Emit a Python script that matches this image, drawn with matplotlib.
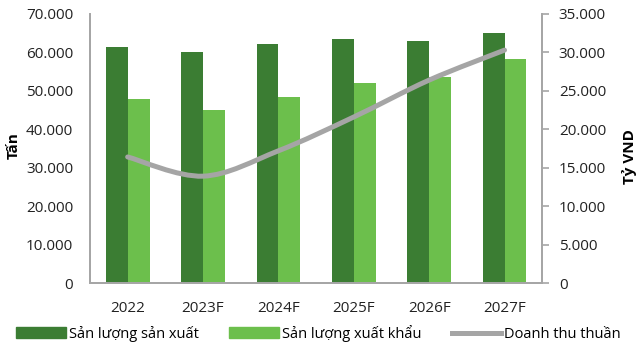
import numpy as np
import matplotlib.pyplot as plt
from matplotlib.path import Path
from matplotlib.patches import PathPatch
from matplotlib.lines import Line2D
from matplotlib.patches import Patch

plt.rcParams['font.family'] = ['Open Sans', 'DejaVu Sans']

years = ['2022', '2023F', '2024F', '2025F', '2026F', '2027F']
san_xuat = [61500, 60100, 62300, 63400, 63100, 65000]   # Tấn
xuat_khau = [48000, 45000, 48500, 52100, 53500, 58400]  # Tấn
doanh_thu = [16400, 13900, 17200, 21600, 26400, 30300]  # Tỷ VND

dark = '#3b7d33'
light = '#6cbf4c'
grey = '#a5a5a5'
axcol = '#a6a6a6'

fig = plt.figure(figsize=(6.4, 3.47), dpi=100)
ax = fig.add_axes([0.1406, 0.1844, 0.7066, 0.7753])
ax2 = ax.twinx()

x = np.arange(len(years))
w = 0.29
ax.bar(x - w / 2, san_xuat, w, color=dark, zorder=2)
ax.bar(x + w / 2, xuat_khau, w, color=light, zorder=2)

# smoothed line (Catmull-Rom as cubic bezier) through the data points
pts = np.column_stack([x, doanh_thu]).astype(float)
verts = [tuple(pts[0])]
codes = [Path.MOVETO]
for i in range(len(pts) - 1):
    p0 = pts[i - 1] if i > 0 else pts[i]
    p1, p2 = pts[i], pts[i + 1]
    p3 = pts[i + 2] if i + 2 < len(pts) else pts[i + 1]
    c1 = p1 + (p2 - p0) / 6
    c2 = p2 - (p3 - p1) / 6
    verts += [tuple(c1), tuple(c2), tuple(p2)]
    codes += [Path.CURVE4] * 3
ax2.add_patch(PathPatch(Path(verts, codes), facecolor='none', edgecolor=grey,
                        lw=3.6, capstyle='round', joinstyle='round', zorder=3))

ax.set_xlim(-0.5, 5.5)
ax.set_ylim(0, 70000)
ax2.set_ylim(0, 35000)
ax.set_yticks(np.arange(0, 70001, 10000))
ax2.set_yticks(np.arange(0, 35001, 5000))
fmt = lambda v: f'{int(v):,}'.replace(',', '.')
ax.set_yticklabels([fmt(v) for v in ax.get_yticks()])
ax2.set_yticklabels([fmt(v) for v in ax2.get_yticks()])
ax.set_xticks(x)
ax.set_xticklabels(years)

for a in (ax, ax2):
    a.spines['top'].set_visible(False)
    for s in ('left', 'right', 'bottom'):
        a.spines[s].set_color(axcol)
        a.spines[s].set_linewidth(1.3)
ax.tick_params(axis='y', length=0, labelsize=11, pad=12, colors='#222222')
ax.tick_params(axis='x', length=0, labelsize=11, pad=13, colors='#222222')
ax2.tick_params(axis='y', length=5, width=1.2, color=axcol, labelsize=11,
                pad=7, labelcolor='#222222')

fig.text(0.022, 0.58, 'Tấn', rotation=90, fontsize=11, fontweight='bold',
         ha='center', va='center')
fig.text(0.983, 0.548, 'Tỷ VND', rotation=90, fontsize=11, fontweight='bold',
         ha='center', va='center')

handles = [Patch(color=dark), Patch(color=light),
           Line2D([0], [0], color=grey, lw=3.6)]
labels = ['Sản lượng sản xuất', 'Sản lượng xuất khẩu', 'Doanh thu thuần']
fig.legend(handles, labels, loc='center', bbox_to_anchor=(0.4977, 0.04), ncol=3,
           frameon=False, fontsize=10.5, handlelength=3.4, handleheight=0.7,
           handletextpad=0.2, columnspacing=2.1, borderpad=0, borderaxespad=0)

fig.savefig('out.png', dpi=100)
